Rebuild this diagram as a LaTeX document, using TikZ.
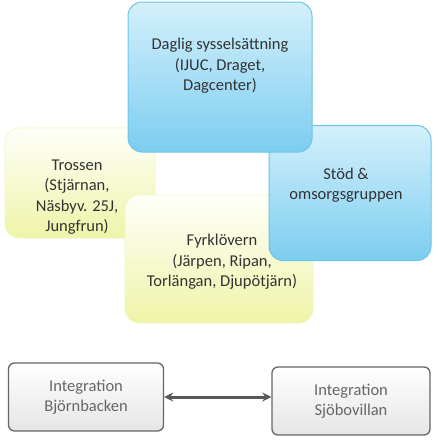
\documentclass[tikz,border=0pt]{standalone}
\usepackage{fontspec}
\setmainfont{Carlito}
\usetikzlibrary{arrows.meta}
\definecolor{bluetop}{HTML}{D4F0FB}
\definecolor{bluebot}{HTML}{7CCDF0}
\definecolor{bluedraw}{HTML}{6CC4EC}
\definecolor{yeltop}{HTML}{FFFFFA}
\definecolor{yelbot}{HTML}{EEF4A8}
\definecolor{txt}{HTML}{333333}
\definecolor{graytxt}{HTML}{666666}
\tikzset{
  bluebox/.style={draw=bluedraw, line width=1pt, rounded corners=14pt, top color=bluetop, bottom color=bluebot, inner sep=0pt},
  yelbox/.style={draw=yelbot!70!white, line width=0.6pt, rounded corners=14pt, top color=yeltop, bottom color=yelbot, inner sep=0pt},
  graybox/.style={draw=gray!80!black, line width=1.3pt, rounded corners=6pt, top color=white, bottom color=gray!20, inner sep=0pt},
  lbl/.style={font=\fontsize{16.5}{20.5}\selectfont, text=txt, align=center, inner sep=0pt},
  glbl/.style={font=\fontsize{16.5}{20.5}\selectfont, text=graytxt, align=center, inner sep=0pt},
  dblarrow/.style={{Stealth[length=9pt,width=9pt]}-{Stealth[length=9pt,width=9pt]}, line width=3pt, draw=black!65}
}
\begin{document}
\begin{tikzpicture}[x=1pt,y=-1pt]
\useasboundingbox (0,0) rectangle (439,442);
\fill[white] (0,0) rectangle (439,442);
% Trossen
\node[yelbox, minimum width=150pt, minimum height=110pt] (tross) at (80,183) {};
\node[lbl] (trosst) at (77,197) {Trossen\\(Stjärnan,\\Näsbyv. 25J,\\Jungfrun)};
% Fyrklövern
\node[yelbox, minimum width=188pt, minimum height=128pt] (fyr) at (219,259) {};
\node[lbl] (fyrt) at (222,262) {Fyrklövern\\(Järpen, Ripan,\\Torlängan, Djupötjärn)};
% Stod
\node[bluebox, minimum width=162pt, minimum height=135pt] (stod) at (350,193) {};
\node[lbl] (stodt) at (346,185) {Stöd \&\\omsorgsgruppen};
% Daglig
\node[bluebox, minimum width=184pt, minimum height=150pt] (dag) at (220,77) {};
\node[lbl] (dagt) at (220,66) {Daglig sysselsättning\\(IJUC, Draget,\\Dagcenter)};
% bottom
\node[graybox, minimum width=155pt, minimum height=68pt] (bjorn) at (86,397) {};
\node[glbl] (bjornt) at (86,397) {Integration\\Björnbacken};
\node[graybox, minimum width=158pt, minimum height=68pt] (sjo) at (351,401) {};
\node[glbl] (sjot) at (351,401) {Integration\\Sjöbovillan};
\draw[dblarrow] (bjorn.east) -- (sjo.west |- bjorn.east);
\end{tikzpicture}
\end{document}
